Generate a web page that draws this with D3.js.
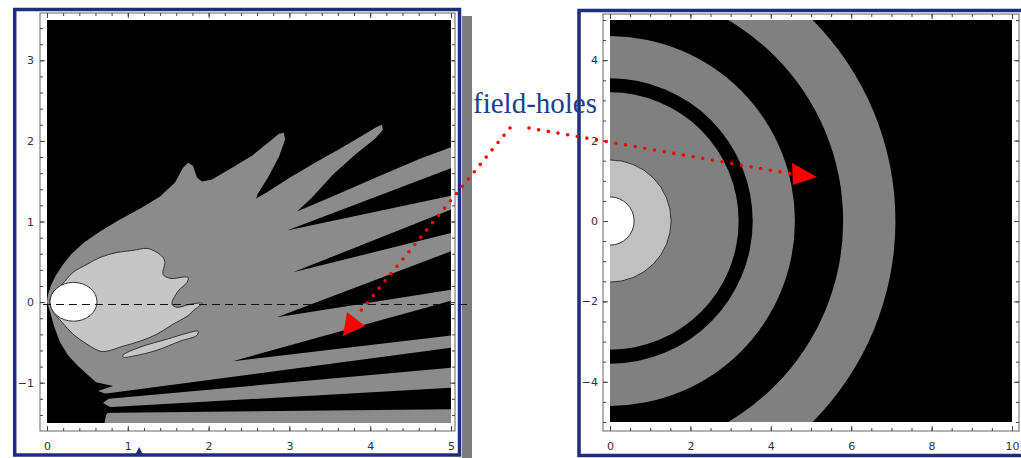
<!DOCTYPE html>
<html>
<head>
<meta charset="utf-8">
<script src="https://cdn.jsdelivr.net/npm/d3@7"></script>
<style>
  body { margin: 0; background: #fff; }
  svg { display: block; }
</style>
</head>
<body>
<svg id="chart" width="1021" height="458"></svg>
<script>
// ---- left plot (data units) ----
const leftXTicks = [0, 1, 2, 3, 4, 5];
const leftYTicks = [-1, 0, 1, 2, 3];

// outline of the gray field region (fingers on top, jagged edge bottom-left)
const grayRegion = [
  [0, 0], [0.012, 0.097], [0.05, 0.208], [0.111, 0.332], [0.198, 0.468], [0.309, 0.604],
  [0.458, 0.74], [0.656, 0.876], [0.903, 1.025], [1.176, 1.173], [1.399, 1.309], [1.584, 1.483],
  [1.683, 1.668], [1.745, 1.73], [1.807, 1.693], [1.856, 1.545], [1.918, 1.495], [2.042, 1.52],
  [2.29, 1.668], [2.537, 1.817], [2.735, 1.978], [2.871, 2.089], [2.933, 2.101], [2.946, 2.015],
  [2.871, 1.804], [2.735, 1.545], [2.611, 1.347], [2.587, 1.285], [2.698, 1.347], [3.007, 1.545],
  [3.317, 1.73], [3.626, 1.903], [3.899, 2.064], [4.084, 2.176], [4.146, 2.2], [4.158, 2.139],
  [4.059, 2.027], [3.812, 1.829], [3.54, 1.582], [3.28, 1.297], [3.094, 1.124], [3.502, 1.297],
  [4.121, 1.569], [4.616, 1.78], [5.05, 1.941], [5.05, -1.6], [0.693, -1.6], [0.73, -1.4],
  [0.804, -1.315], [0.693, -1.253], [0.804, -1.166], [0.631, -1.104], [0.817, -1.042],
  [0.606, -0.993], [0.507, -0.905], [0.384, -0.794], [0.26, -0.658], [0.161, -0.498],
  [0.087, -0.299], [0.037, -0.114]
];

// black "field-hole" wedges cutting into the gray region
const holeWedges = [
  [[2.97, 0.889], [5.05, 1.68], [5.05, 1.33]],
  [[3.045, 0.369], [5.05, 1.17], [5.05, 0.87]],
  [[2.847, -0.188], [5.05, 0.65], [5.05, 0.16]],
  [[2.302, -0.733], [5.05, 0.03], [5.05, -0.41]],
  [[0.594, -1.153], [5.05, -0.56], [5.05, -0.81], [0.594, -1.215]],
  [[0.594, -1.314], [5.05, -1.06], [5.05, -1.33], [0.594, -1.376]]
];

const lightRegion = [
  [0.037, 0.01], [0.074, 0.121], [0.186, 0.22], [0.322, 0.369], [0.495, 0.468], [0.656, 0.554],
  [0.866, 0.616], [1.064, 0.641], [1.238, 0.666], [1.361, 0.616], [1.436, 0.554], [1.46, 0.493],
  [1.436, 0.344], [1.522, 0.295], [1.745, 0.307], [1.733, 0.245], [1.621, 0.134], [1.547, -0.027],
  [1.609, -0.064], [1.77, -0.027], [1.918, -0.015], [1.832, -0.089], [1.733, -0.176], [1.559, -0.275],
  [1.361, -0.398], [1.151, -0.485], [0.941, -0.547], [0.743, -0.609], [0.656, -0.609], [0.495, -0.522],
  [0.322, -0.398], [0.186, -0.25], [0.074, -0.114]
];

const lightLeaf = [
  [0.941, -0.658], [1.151, -0.559], [1.485, -0.46], [1.733, -0.386], [1.869, -0.361],
  [1.856, -0.411], [1.646, -0.485], [1.361, -0.597], [1.064, -0.671], [0.941, -0.683]
];

const whiteSpot = { cx: 0.328, cy: 0.004, rx: 0.291, ry: 0.241 };
const axisLineY = -0.03;

// ---- right plot ----
const rightXTicks = [0, 2, 4, 6, 8, 10];
const rightYTicks = [-4, -2, 0, 2, 4];
const ringRadii = [7.1, 5.8, 4.6, 3.55, 3.2, 1.52, 0.6];
const ringLevels = ["gray", "black", "gray", "black", "gray", "light", "white"];

// ---- annotation ----
const noteText = "field-holes";
const noteAt = [-3.408, 2.687];                      // right-plot units
const leftDots = [[5.73, 2.16], [3.849, -0.148]];    // left-plot units
const leftHead = [[3.663, -0.42], [3.713, -0.123], [3.936, -0.297]];
const rightDots = [[-2.015, 2.313], [4.527, 1.169]]; // right-plot units
const rightHead = [[4.527, 1.443], [5.149, 1.095], [4.552, 0.896]];

const FILL_L = { black: "#000", gray: "#8b8b8b", light: "#c6c6c6", white: "#fff" };
const FILL_R = { black: "#000", gray: "#808080", light: "#c0c0c0", white: "#fff" };
const svg = d3.select("#chart");

function ticksBetween(domain, step) {
  const lo = Math.ceil(domain[0] / step - 1e-9), hi = Math.floor(domain[1] / step + 1e-9);
  return d3.range(lo, hi + 1).map(i => +(i * step).toFixed(6));
}

function drawPanel(p) {
  const g = svg.append("g");
  if (p.shadow) {
    g.append("rect").attr("x", p.shadow.x).attr("y", p.shadow.y)
      .attr("width", p.shadow.w).attr("height", p.shadow.h).attr("fill", "#7d7d7d");
  }
  g.append("rect").attr("x", p.box.x).attr("y", p.box.y)
    .attr("width", p.box.w).attr("height", p.box.h)
    .attr("fill", "#fff").attr("stroke", "#1f2d7d").attr("stroke-width", 3.5);

  const f = p.frame;
  g.append("rect").attr("x", f.x0).attr("y", f.y0)
    .attr("width", f.x1 - f.x0).attr("height", f.y1 - f.y0)
    .attr("fill", "none").attr("stroke", "#666").attr("stroke-width", 1);

  const x = d3.scaleLinear().domain(p.xDomain).range([p.plot.x0, p.plot.x1]);
  const y = d3.scaleLinear().domain(p.yDomain).range([p.plot.y1, p.plot.y0]);

  svg.append("clipPath").attr("id", p.id)
    .append("rect").attr("x", p.plot.x0).attr("y", p.plot.y0)
    .attr("width", p.plot.x1 - p.plot.x0).attr("height", p.plot.y1 - p.plot.y0);

  const plot = g.append("g").attr("clip-path", `url(#${p.id})`);
  plot.append("rect").attr("x", p.plot.x0).attr("y", p.plot.y0)
    .attr("width", p.plot.x1 - p.plot.x0).attr("height", p.plot.y1 - p.plot.y0)
    .attr("fill", "#000");
  p.draw(plot, x, y);

  const minorX = ticksBetween(p.xDomain, p.xMinor);
  const minorY = ticksBetween(p.yDomain, p.yMinor);
  const fmt = d3.format("d");

  // minor ticks on all four sides
  g.append("g").attr("transform", `translate(0,${f.y1})`)
    .call(d3.axisBottom(x).tickValues(minorX).tickSize(-3).tickFormat(""));
  g.append("g").attr("transform", `translate(0,${f.y0})`)
    .call(d3.axisTop(x).tickValues(minorX).tickSize(-3).tickFormat(""));
  g.append("g").attr("transform", `translate(${f.x0},0)`)
    .call(d3.axisLeft(y).tickValues(minorY).tickSize(-3).tickFormat(""));
  g.append("g").attr("transform", `translate(${f.x1},0)`)
    .call(d3.axisRight(y).tickValues(minorY).tickSize(-3).tickFormat(""));

  // major ticks, labels on left and bottom only
  g.append("g").attr("transform", `translate(0,${f.y1})`)
    .call(d3.axisBottom(x).tickValues(p.xTicks).tickSize(-5).tickPadding(11).tickFormat(fmt));
  g.append("g").attr("transform", `translate(0,${f.y0})`)
    .call(d3.axisTop(x).tickValues(p.xTicks).tickSize(-5).tickFormat(""));
  g.append("g").attr("transform", `translate(${f.x0},0)`)
    .call(d3.axisLeft(y).tickValues(p.yTicks).tickSize(-5).tickPadding(p.yPad).tickFormat(fmt));
  g.append("g").attr("transform", `translate(${f.x1},0)`)
    .call(d3.axisRight(y).tickValues(p.yTicks).tickSize(-5).tickFormat(""));

  g.selectAll(".domain").remove();
  g.selectAll(".tick line").attr("stroke", "#444");
  g.selectAll(".tick text")
    .attr("fill", "#333")
    .attr("font-family", "'DejaVu Sans', sans-serif")
    .attr("font-size", 11);
  return { g, x, y };
}

const outline = (x, y) => d3.line().x(d => x(d[0])).y(d => y(d[1])).curve(d3.curveLinearClosed);
const smooth = (x, y) => d3.line().x(d => x(d[0])).y(d => y(d[1])).curve(d3.curveCatmullRomClosed.alpha(0.5));

const left = drawPanel({
  id: "clipL",
  box: { x: 14.7, y: 9.5, w: 444.8, h: 445.5 },
  shadow: { x: 462, y: 16, w: 10, h: 442 },
  frame: { x0: 40, y0: 13, x1: 455, y1: 431 },
  plot: { x0: 47, x1: 451, y0: 20, y1: 423 },
  xDomain: [0, 5], yDomain: [-1.5, 3.5],
  xTicks: leftXTicks, yTicks: leftYTicks, xMinor: 0.2, yMinor: 0.2, yPad: 6,
  draw(plot, x, y) {
    plot.append("path").attr("d", outline(x, y)(grayRegion)).attr("fill", FILL_L.gray);
    plot.selectAll("path.hole").data(holeWedges).join("path")
      .attr("class", "hole").attr("d", outline(x, y)).attr("fill", FILL_L.black);
    plot.append("path").attr("d", smooth(x, y)(lightRegion))
      .attr("fill", FILL_L.light).attr("stroke", "#333").attr("stroke-width", 1);
    plot.append("path").attr("d", smooth(x, y)(lightLeaf))
      .attr("fill", FILL_L.light).attr("stroke", "#333").attr("stroke-width", 1);
    plot.append("ellipse")
      .attr("cx", x(whiteSpot.cx)).attr("cy", y(whiteSpot.cy))
      .attr("rx", x(whiteSpot.rx) - x(0)).attr("ry", y(0) - y(whiteSpot.ry))
      .attr("fill", FILL_L.white).attr("stroke", "#333").attr("stroke-width", 1);
  }
});

// dashed reference line, runs out past the frame
left.g.append("line")
  .attr("x1", left.x(-0.05)).attr("x2", left.x(5.26))
  .attr("y1", left.y(axisLineY)).attr("y2", left.y(axisLineY))
  .attr("stroke", "#111").attr("stroke-width", 1.2).attr("stroke-dasharray", "8,5");

// small blue marker under the "1" label
const mx = left.x(1.14);
left.g.append("path")
  .attr("d", `M${mx},447 L${mx - 3.5},454 L${mx + 3.5},454 Z`)
  .attr("fill", "#1f2d7d");

const right = drawPanel({
  id: "clipR",
  box: { x: 579, y: 10.5, w: 460, h: 445 },
  frame: { x0: 603, y0: 14, x1: 1019, y1: 431 },
  plot: { x0: 610, x1: 1012, y0: 20, y1: 422 },
  xDomain: [0, 10], yDomain: [-5, 5],
  xTicks: rightXTicks, yTicks: rightYTicks, xMinor: 0.5, yMinor: 0.5, yPad: 5,
  draw(plot, x, y) {
    plot.selectAll("circle.ring").data(ringRadii).join("circle")
      .attr("class", "ring")
      .attr("cx", x(0)).attr("cy", y(0))
      .attr("r", d => x(d) - x(0))
      .attr("fill", (d, i) => FILL_R[ringLevels[i]])
      .attr("stroke", (d, i) => (ringLevels[i] === "light" || ringLevels[i] === "white") ? "#333" : "none")
      .attr("stroke-width", 1);
  }
});

// annotation
svg.append("text")
  .attr("x", right.x(noteAt[0])).attr("y", right.y(noteAt[1]))
  .attr("font-family", "'Liberation Serif', 'Times New Roman', serif")
  .attr("font-size", 29).attr("fill", "#213d8c")
  .text(noteText);

const dotLine = (sx, sy) => d3.line().x(d => sx(d[0])).y(d => sy(d[1]));
svg.append("path").attr("d", dotLine(left.x, left.y)(leftDots))
  .attr("fill", "none").attr("stroke", "#ff0000").attr("stroke-width", 3.6)
  .attr("stroke-linecap", "round").attr("stroke-dasharray", "0,9.4");
svg.append("path").attr("d", outline(left.x, left.y)(leftHead)).attr("fill", "#ff0000");

svg.append("path").attr("d", dotLine(right.x, right.y)(rightDots))
  .attr("fill", "none").attr("stroke", "#ff0000").attr("stroke-width", 3.6)
  .attr("stroke-linecap", "round").attr("stroke-dasharray", "0,9.8");
svg.append("path").attr("d", outline(right.x, right.y)(rightHead)).attr("fill", "#ff0000");
</script>
</body>
</html>
